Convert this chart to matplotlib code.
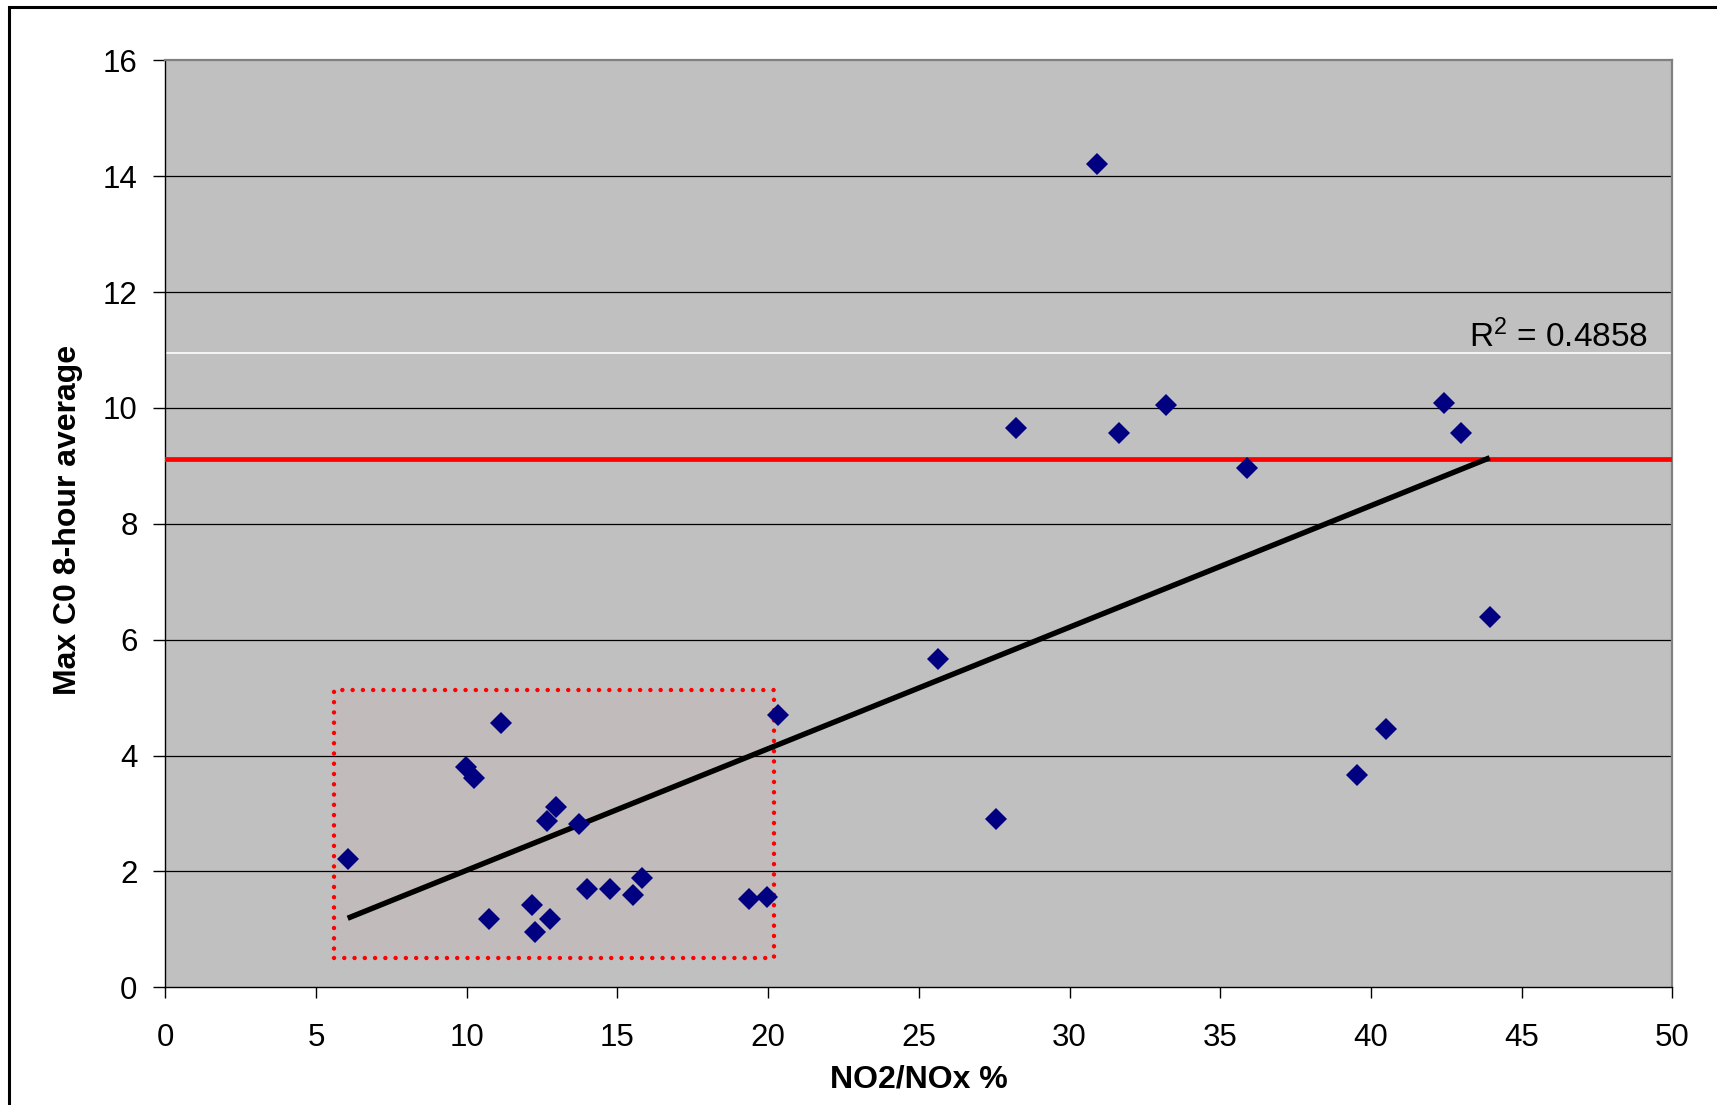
import numpy as np
import matplotlib
matplotlib.use("Agg")
from matplotlib import pyplot as plt
from matplotlib.patches import Rectangle

plt.rcParams['font.family'] = ['Liberation Sans', 'DejaVu Sans']
plt.rcParams['mathtext.fontset'] = 'custom'
plt.rcParams['mathtext.rm'] = 'Liberation Sans'
plt.rcParams['mathtext.it'] = 'Liberation Sans'

# NO2/NOx % vs max CO 8-hour average
no2_nox = [6.05, 9.97, 10.24, 11.12, 10.74, 12.18, 12.27, 12.66, 12.75, 12.95,
           13.72, 14.0, 14.76, 15.53, 15.83, 19.37, 19.95, 20.34, 25.64, 27.56,
           28.21, 30.9, 31.65, 33.2, 35.88, 39.53, 40.49, 42.41, 42.99, 43.94]
max_co = [2.21, 3.81, 3.62, 4.56, 1.18, 1.42, 0.95, 2.87, 1.18, 3.11,
          2.82, 1.70, 1.70, 1.60, 1.88, 1.52, 1.56, 4.70, 5.66, 2.90,
          9.66, 14.21, 9.57, 10.05, 8.96, 3.66, 4.46, 10.09, 9.57, 6.39]

standard = 9.12          # red limit line
white_line = 10.94
box_x = [5.61, 20.2]
box_y = [0.51, 5.14]
r2_text = "R$^{2}$ = 0.4858"

fig = plt.figure(figsize=(17.17, 11.05), dpi=100)
ax = fig.add_axes([0.0963, 0.1065, 0.8777, 0.8389])
ax.set_facecolor('#c0c0c0')

# outer frame (only left and top edges fall inside the picture)
fig.add_artist(Rectangle((9 / 1717, -0.2), 1.2, 1.2 - 6.7 / 1105,
                         transform=fig.transFigure, fill=False,
                         edgecolor='black', lw=2.2))

for yv in range(2, 16, 2):
    ax.axhline(yv, color='black', lw=0.9, zorder=1)
ax.axhline(white_line, color='white', lw=1.2, zorder=1)

ax.add_patch(Rectangle((box_x[0], box_y[0]), box_x[1] - box_x[0], box_y[1] - box_y[0],
                       facecolor=(1, 0, 0, 0.022), edgecolor='red', lw=3.2,
                       linestyle=(0, (0.01, 2.3)), capstyle='round', zorder=2))

ax.axhline(standard, color='#ff0000', lw=3.4, zorder=3)

# linear trend
coef = np.polyfit(no2_nox, max_co, 1)
tx = np.array([min(no2_nox), max(no2_nox)])
ax.plot(tx, np.polyval(coef, tx), color='black', lw=3.9, zorder=4,
        solid_capstyle='butt')

ax.plot(no2_nox, max_co, linestyle='none', marker='D', ms=11.2, mew=0,
        color='#000080', zorder=5)

ax.text(49.2, 11.05, r2_text, ha='right', va='baseline', fontsize=24)

ax.set_xlim(0, 50)
ax.set_ylim(0, 16)
ax.set_xticks(range(0, 51, 5))
ax.set_yticks(range(0, 17, 2))
ax.tick_params(axis='both', direction='out', labelsize=22.5, width=1, color='black')
ax.tick_params(axis='x', length=8, pad=18)
ax.tick_params(axis='y', length=9, pad=11)

for s in ['left', 'bottom']:
    ax.spines[s].set_color('black')
    ax.spines[s].set_linewidth(1)
for s in ['top', 'right']:
    ax.spines[s].set_color('#808080')
    ax.spines[s].set_linewidth(1.6)

ax.set_xlabel('NO2/NOx %', fontsize=23, fontweight='bold')
ax.set_ylabel('Max C0 8-hour average', fontsize=23, fontweight='bold')
ax.xaxis.label.set_va('center')
ax.yaxis.label.set_va('center')
ax.xaxis.set_label_coords(0.5, -0.0995)
ax.yaxis.set_label_coords(-0.0646, 0.504)

fig.savefig('out.png', dpi=100)
